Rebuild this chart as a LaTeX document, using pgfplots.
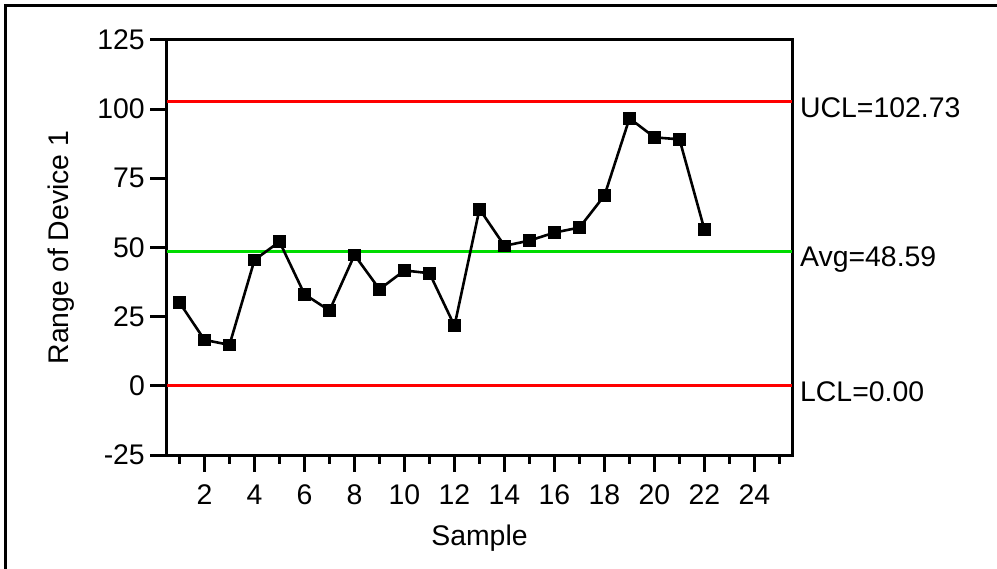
\documentclass[border=0pt]{standalone}
\usepackage{fontspec}
\setmainfont{Liberation Sans}
\usepackage{pgfplots}
\pgfplotsset{compat=1.18}
\definecolor{ucl}{RGB}{255,0,0}
\definecolor{avg}{RGB}{0,220,0}
\begin{document}
\fontsize{28.5}{33}\selectfont
\begin{tikzpicture}
\path[use as bounding box] (-167bp,-114bp) rectangle (830bp,455bp);
\draw[line width=3bp] (-161.5bp,-120bp) -- (-161.5bp,449.5bp) -- (840bp,449.5bp);
\begin{axis}[
  scale only axis, width=625bp, height=415bp,
  xmin=0.5, xmax=25.5, ymin=-25, ymax=125,
  xtick={2,4,...,24}, minor xtick={1,3,...,25},
  ytick={-25,0,25,50,75,100,125},
  xtick pos=left, ytick pos=left,
  tick align=outside,
  major tick length=16.5bp, minor tick length=8.5bp,
  axis line style={line width=3bp},
  major tick style={line width=3bp, black},
  minor tick style={line width=3bp, black},
  /pgf/number format/assume math mode=true,
  ticklabel style={font=\fontsize{28.5}{33}\selectfont, inner sep=0pt},
  xticklabel style={anchor=north, yshift=-13bp},
  yticklabel style={anchor=east, xshift=-5.5bp},
  xlabel={Sample},
  ylabel={Range of Device 1},
  xlabel style={at={(axis description cs:0.5,-0.2186)}, anchor=base, font=\fontsize{28.5}{33}\selectfont},
  ylabel style={at={(axis description cs:-0.158,0.5)}, anchor=base, rotate=0, font=\fontsize{28.5}{33}\selectfont},
  clip=false,
]
\addplot[ucl, line width=2.7bp] coordinates {(0.5,102.73) (25.5,102.73)};
\addplot[avg, line width=2.7bp] coordinates {(0.5,48.59) (25.5,48.59)};
\addplot[ucl, line width=2.7bp] coordinates {(0.5,0) (25.5,0)};
\addplot[black, line width=2.6bp, mark=square*, mark size=5.9bp, mark options={line width=0.8bp, solid}] coordinates {
(1,30.1) (2,16.6) (3,14.8) (4,45.5) (5,52.1) (6,33.1) (7,27.2) (8,47.3) (9,34.9) (10,41.7) (11,40.7)
(12,21.7) (13,63.9) (14,50.6) (15,52.5) (16,55.4) (17,57.2) (18,68.8) (19,96.7) (20,89.8) (21,89.1) (22,56.4)
};
\node[anchor=base west, inner sep=0pt, xshift=8bp, yshift=-16bp] at (axis cs:25.5,102.73) {UCL=102.73};
\node[anchor=base west, inner sep=0pt, xshift=8bp, yshift=-15.5bp] at (axis cs:25.5,48.59) {Avg=48.59};
\node[anchor=base west, inner sep=0pt, xshift=8bp, yshift=-15.5bp] at (axis cs:25.5,0) {LCL=0.00};
\end{axis}
\end{tikzpicture}
\end{document}
